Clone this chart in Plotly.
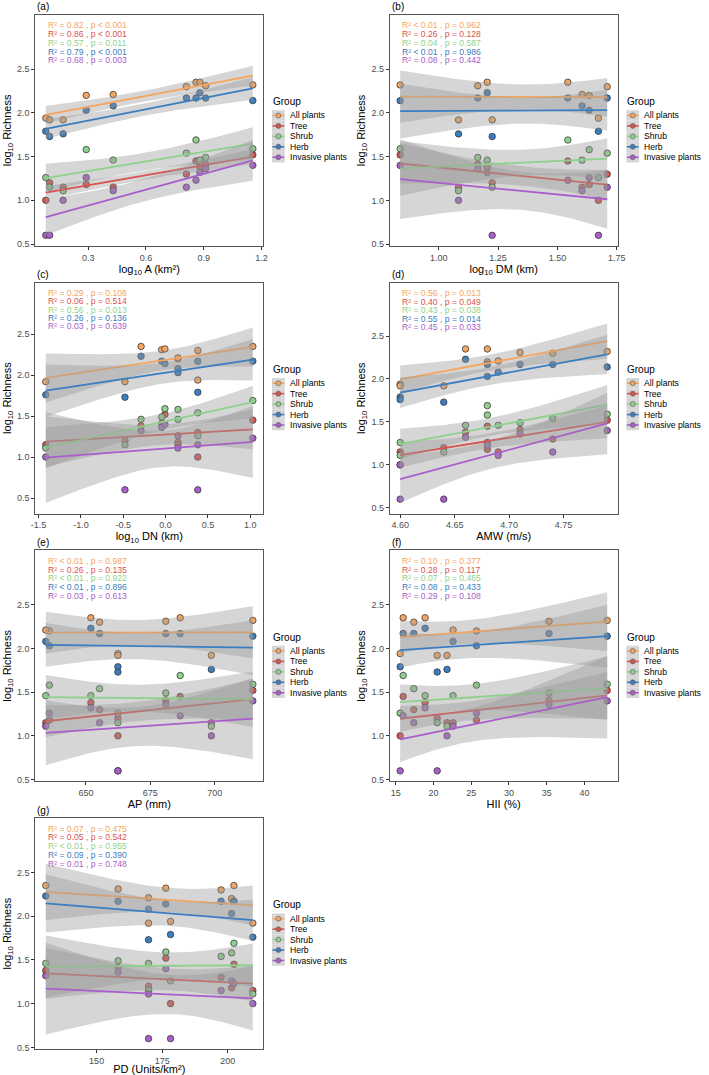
import numpy as np
import plotly.graph_objects as go

W, H = 709, 1075

# ---------------- data (10 sites) ----------------
groups = ["All plants", "Tree", "Shrub", "Herb", "Invasive plants"]
colors = ["#F5A55F", "#D9534F", "#8FD18C", "#3A7EC0", "#A95ECB"]

rich_all = [1.94, 1.92, 1.92, 2.20, 2.21, 2.30, 2.35, 2.35, 2.31, 2.32]
rich_tree = [1.00, 1.20, 1.15, 1.18, 1.15, 1.30, 1.45, 1.38, 1.41, 1.52]
rich_shrub = [1.26, 1.15, 1.11, 1.58, 1.46, 1.54, 1.69, 1.46, 1.49, 1.59]
rich_herb = [1.79, 1.73, 1.76, 2.03, 2.08, 2.17, 2.17, 2.23, 2.17, 2.14]
rich_inv = [0.60, 0.60, 1.00, 1.26, 1.11, 1.15, 1.23, 1.32, 1.36, 1.40]

x_A = [0.08, 0.10, 0.17, 0.29, 0.43, 0.81, 0.86, 0.88, 0.91, 1.155]
x_DM = [1.673, 1.225, 1.083, 1.634, 1.604, 1.71, 1.544, 1.204, 1.164, 0.837]
x_DN = [0.38, -0.48, -1.415, 0.146, 0.146, 0.38, 1.03, -0.29, -0.046, -0.008]
x_AMW = [4.60, 4.64, 4.60, 4.68, 4.69, 4.74, 4.68, 4.66, 4.71, 4.79]
x_AP = [662.4, 662.4, 698.7, 635.8, 634.4, 655.3, 686.6, 651.9, 681.0, 714.8]
x_HII = [15.6, 20.5, 21.8, 25.7, 22.6, 17.4, 16.0, 18.9, 35.3, 43.0]
x_PD = [178.2, 169.8, 209.6, 201.5, 169.8, 197.5, 202.4, 130.6, 158.2, 176.4]

ticks_A = [0.3, 0.6, 0.9, 1.2]
ticks_DM = [1.00, 1.25, 1.50, 1.75]
ticks_DN = [-1.5, -1.0, -0.5, 0.0, 0.5, 1.0]
ticks_AMW = [4.60, 4.65, 4.70, 4.75]
ticks_AP = [650, 675, 700]
ticks_HII = [15, 20, 25, 30, 35, 40]
ticks_PD = [150, 175, 200]
ticks_y = [0.5, 1.0, 1.5, 2.0, 2.5]

labels_a = ["R² = 0.82 , p < 0.001", "R² = 0.86 , p < 0.001", "R² = 0.57 , p = 0.011",
            "R² = 0.79 , p < 0.001", "R² = 0.68 , p = 0.003"]
labels_b = ["R² < 0.01 , p = 0.962", "R² = 0.26 , p = 0.128", "R² = 0.04 , p = 0.587",
            "R² < 0.01 , p = 0.986", "R² = 0.08 , p = 0.442"]
labels_c = ["R² = 0.29 , p = 0.108", "R² = 0.06 , p = 0.514", "R² = 0.56 , p = 0.013",
            "R² = 0.26 , p = 0.136", "R² = 0.03 , p = 0.639"]
labels_d = ["R² = 0.56 , p = 0.013", "R² = 0.40 , p = 0.049", "R² = 0.43 , p = 0.038",
            "R² = 0.55 , p = 0.014", "R² = 0.45 , p = 0.033"]
labels_e = ["R² < 0.01 , p = 0.987", "R² = 0.26 , p = 0.135", "R² < 0.01 , p = 0.922",
            "R² < 0.01 , p = 0.896", "R² = 0.03 , p = 0.613"]
labels_f = ["R² = 0.10 , p = 0.377", "R² = 0.28 , p = 0.117", "R² = 0.07 , p = 0.465",
            "R² = 0.08 , p = 0.433", "R² = 0.29 , p = 0.108"]
labels_g = ["R² = 0.07 , p = 0.475", "R² = 0.05 , p = 0.542", "R² < 0.01 , p = 0.955",
            "R² = 0.09 , p = 0.390", "R² = 0.01 , p = 0.748"]
label_y = [3.0, 2.9, 2.8, 2.7, 2.6]

panels = [
    ("(a)", x_A, "log<sub>10</sub> A (km²)", ticks_A, "{:.1f}", labels_a),
    ("(b)", x_DM, "log<sub>10</sub> DM (km)", ticks_DM, "{:.2f}", labels_b),
    ("(c)", x_DN, "log<sub>10</sub> DN (km)", ticks_DN, "{:.1f}", labels_c),
    ("(d)", x_AMW, "AMW (m/s)", ticks_AMW, "{:.2f}", labels_d),
    ("(e)", x_AP, "AP (mm)", ticks_AP, "{:.0f}", labels_e),
    ("(f)", x_HII, "HII (%)", ticks_HII, "{:.0f}", labels_f),
    ("(g)", x_PD, "PD (Units/km²)", ticks_PD, "{:.0f}", labels_g),
]
rich = [rich_all, rich_tree, rich_shrub, rich_herb, rich_inv]

# ---------------- layout geometry (pixels) ----------------
col_x0 = [31, 392]
row_top = [15, 284, 553, 822]
BW, BH = 232, 232
FONT = "Liberation Sans, Arial, sans-serif"
T_CRIT = 2.306  # t(0.975, df=8)
BAND = "rgba(153,153,153,0.4)"


def px(xp):
    return xp / W


def py(yp):
    return 1 - yp / H


def fit_band(x, y):
    x = np.asarray(x, float)
    y = np.asarray(y, float)
    n = len(x)
    b, a = np.polyfit(x, y, 1)
    res = y - (a + b * x)
    s = np.sqrt(np.sum(res ** 2) / (n - 2))
    xb = x.mean()
    sxx = np.sum((x - xb) ** 2)
    g = np.linspace(x.min(), x.max(), 80)
    yh = a + b * g
    se = s * np.sqrt(1 / n + (g - xb) ** 2 / sxx)
    return g, yh, yh - T_CRIT * se, yh + T_CRIT * se


fig = go.Figure()
annotations = []
shapes = []

for i, (tag, xs, xtitle, tv, fmt, labs) in enumerate(panels):
    k = i + 1
    r, c = divmod(i, 2)
    x0 = col_x0[c]
    top = row_top[r]
    xa = "x" if k == 1 else f"x{k}"
    ya = "y" if k == 1 else f"y{k}"

    all_y = [3.0]
    # points
    for gi, g in enumerate(groups):
        fig.add_trace(go.Scatter(
            x=xs, y=rich[gi], mode="markers", xaxis=xa, yaxis=ya, showlegend=False,
            marker=dict(size=6.5, color=colors[gi], line=dict(color="#3a3a3a", width=0.8)),
            hoverinfo="skip"))
        all_y += list(rich[gi])
    # smooths
    for gi, g in enumerate(groups):
        gx, yh, lo, hi = fit_band(xs, rich[gi])
        all_y += list(lo) + list(hi)
        fig.add_trace(go.Scatter(
            x=np.concatenate([gx, gx[::-1]]), y=np.concatenate([hi, lo[::-1]]),
            fill="toself", fillcolor=BAND, line=dict(width=0), mode="lines",
            xaxis=xa, yaxis=ya, showlegend=False, hoverinfo="skip"))
        fig.add_trace(go.Scatter(
            x=gx, y=yh, mode="lines", line=dict(color=colors[gi], width=1.8),
            xaxis=xa, yaxis=ya, showlegend=False, hoverinfo="skip"))

    xmin, xmax = min(xs), max(xs)
    xr = xmax - xmin
    ymin, ymax = min(all_y), max(all_y)
    yr = ymax - ymin

    axis_common = dict(showline=True, mirror=True, linecolor="#555555", linewidth=1,
                       ticks="outside", ticklen=3, tickwidth=1, tickcolor="#333333",
                       showgrid=False, zeroline=False,
                       tickfont=dict(family=FONT, size=9, color="#4D4D4D"))
    fig.update_layout(**{
        f"xaxis{k}": dict(domain=[px(x0), px(x0 + BW)], anchor=ya,
                          range=[xmin - 0.05 * xr, xmax + 0.05 * xr],
                          tickvals=tv, ticktext=[fmt.format(t) for t in tv],
                          title=dict(text=xtitle, font=dict(family=FONT, size=11, color="black"),
                                     standoff=1),
                          **axis_common),
        f"yaxis{k}": dict(domain=[py(top + BH), py(top)], anchor=xa,
                          range=[ymin - 0.05 * yr, ymax + 0.05 * yr],
                          tickvals=ticks_y, ticktext=[f"{t:.1f}" for t in ticks_y],
                          title=dict(text="log<sub>10</sub> Richness",
                                     font=dict(family=FONT, size=11, color="black"),
                                     standoff=3),
                          **axis_common),
    })

    # stat labels
    for gi in range(5):
        annotations.append(dict(x=xmin, y=label_y[gi], xref=xa, yref=ya, text=labs[gi],
                                showarrow=False, xanchor="left", yanchor="middle",
                                font=dict(family=FONT, size=8.6, color=colors[gi])))
    # panel tag
    annotations.append(dict(x=px(x0), y=py(top - 8), xref="paper", yref="paper", text=tag,
                            showarrow=False, xanchor="left", yanchor="middle",
                            font=dict(family=FONT, size=10, color="black")))
    # legend
    lx = x0 + BW
    annotations.append(dict(x=px(lx + 8), y=py(top + 87), xref="paper", yref="paper",
                            text="Group", showarrow=False, xanchor="left", yanchor="middle",
                            font=dict(family=FONT, size=10, color="black")))
    step = 10.5
    for gi, g in enumerate(groups):
        cy = top + 101 + gi * step
        shapes.append(dict(type="rect", xref="paper", yref="paper",
                           x0=px(lx + 9), x1=px(lx + 22), y0=py(cy + step / 2), y1=py(cy - step / 2),
                           fillcolor="#D6D6D6", line=dict(width=0), layer="above"))
        shapes.append(dict(type="line", xref="paper", yref="paper",
                           x0=px(lx + 9.5), x1=px(lx + 21.5), y0=py(cy), y1=py(cy),
                           line=dict(color=colors[gi], width=1.6), layer="above"))
        shapes.append(dict(type="circle", xref="paper", yref="paper",
                           x0=px(lx + 13), x1=px(lx + 18), y0=py(cy + 2.5), y1=py(cy - 2.5),
                           fillcolor=colors[gi], line=dict(color="#555555", width=0.6),
                           layer="above"))
        annotations.append(dict(x=px(lx + 25), y=py(cy), xref="paper", yref="paper",
                                text=g, showarrow=False, xanchor="left", yanchor="middle",
                                font=dict(family=FONT, size=8.6, color="black")))

fig.update_layout(width=W, height=H, margin=dict(l=0, r=0, t=0, b=0),
                  paper_bgcolor="white", plot_bgcolor="white",
                  annotations=annotations, shapes=shapes, showlegend=False,
                  font=dict(family=FONT))
fig.write_html("out.html")
